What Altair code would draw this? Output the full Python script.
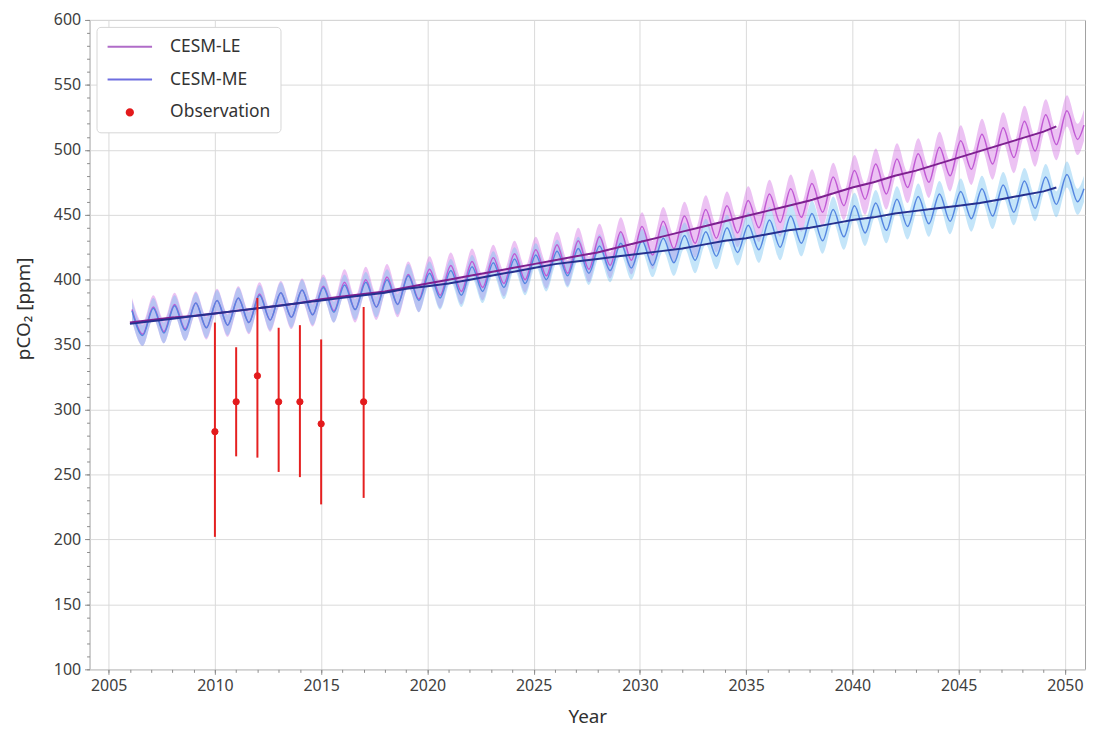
import altair as alt
import pandas as pd

# ---------------- data ----------------
years = list(range(2006, 2051))

le_peak = [377, 379, 381, 382, 384, 386, 389, 390, 392, 395,
           398, 400, 402, 404, 408, 411, 414, 417, 420, 423,
           427, 430, 433, 437, 441, 445, 449, 454, 457, 461,
           466, 470, 474, 479, 484, 489, 493, 497, 502, 507,
           512, 517, 522, 527, 530]
le_trough = [358, 360, 362, 363, 365, 367, 369, 371, 373, 376,
             377, 379, 381, 385, 388, 391, 394, 397, 400, 403,
             405, 408, 411, 415, 419, 424, 428, 432, 436, 440,
             444, 448, 452, 457, 462, 466, 471, 475, 480, 485,
             489, 494, 499, 504, 508]
le_spread = [9, 9, 9, 9, 9, 9, 9, 9, 9, 9,
             10, 10, 10, 10, 10, 10, 10, 10, 10, 10,
             10, 10, 10, 11, 11, 11, 11, 11, 11, 11,
             11, 11, 11, 11, 12, 12, 12, 12, 12, 12,
             12, 12, 12, 12, 12]
le_last = 519

me_peak = [376, 378, 380, 382, 384, 386, 388, 390, 392, 394,
           396, 398, 400, 403, 405, 407, 410, 413, 416, 419,
           422, 424, 426, 428, 430, 432, 434, 437, 440, 442,
           446, 449, 451, 454, 457, 459, 462, 464, 466, 468,
           470, 473, 476, 479, 481]
me_trough = [357, 359, 361, 363, 365, 367, 369, 371, 373, 375,
             377, 379, 381, 384, 386, 388, 391, 394, 397, 400,
             403, 405, 407, 409, 411, 413, 415, 418, 421, 423,
             425, 428, 430, 433, 436, 438, 441, 443, 445, 447,
             449, 452, 455, 458, 460]
me_spread = [8, 8, 8, 8, 8, 8, 8, 8, 8, 8,
             8, 8, 8, 9, 9, 9, 9, 9, 9, 9,
             9, 9, 9, 9, 9, 10, 10, 10, 10, 10,
             10, 10, 10, 10, 10, 10, 10, 10, 10, 10,
             10, 10, 10, 10, 10]
me_last = 470

trend_years = list(range(2006, 2050)) + [2049.6]
le_trend = [367, 369, 371, 372, 374, 376, 378, 380, 382, 385,
            387, 389, 391, 394, 397, 400, 403, 406, 409, 412,
            415, 418, 421, 425, 429, 433, 437, 441, 445, 449,
            453, 457, 461, 466, 471, 475, 480, 484, 489, 494,
            499, 504, 509, 514, 518]
me_trend = [366, 368, 370, 372, 374, 376, 378, 380, 382, 384,
            386, 388, 390, 393, 395, 397, 400, 403, 406, 409,
            412, 414, 416, 418, 420, 422, 424, 427, 430, 432,
            435, 438, 440, 443, 446, 448, 451, 453, 455, 457,
            459, 462, 465, 468, 471]

obs_years = [2010, 2011, 2012, 2013, 2014, 2015, 2017]
obs_values = [283, 306, 326, 306, 306, 289, 306]
obs_low = [202, 264, 263, 252, 248, 227, 232]
obs_high = [367, 348, 386, 363, 365, 354, 379]

series_names = ["CESM-LE", "CESM-ME", "Observation"]
x_major = list(range(2005, 2051, 5))
x_minor = list(range(2005, 2051))
y_major = list(range(100, 601, 50))
y_minor = list(range(100, 601, 10))

# ---------------- build tables ----------------
def wave(peak, trough, spread, last):
    rows = []
    for i, yr in enumerate(years):
        rows.append({"t": yr + 0.1, "v": peak[i], "lo": peak[i] - spread[i], "hi": peak[i] + spread[i]})
        rows.append({"t": yr + 0.6, "v": trough[i], "lo": trough[i] - spread[i], "hi": trough[i] + spread[i]})
    rows.append({"t": 2050.9, "v": last, "lo": last - spread[-1], "hi": last + spread[-1]})
    return pd.DataFrame(rows)

le_df = wave(le_peak, le_trough, le_spread, le_last)
me_df = wave(me_peak, me_trough, me_spread, me_last)
trend_df = pd.DataFrame({"t": trend_years, "le": le_trend, "me": me_trend})
obs_df = pd.DataFrame({"t": obs_years, "v": obs_values, "lo": obs_low,
                       "hi": obs_high, "series": ["Observation"] * len(obs_years)})

FONT = "Noto Sans"
xs = alt.Scale(domain=[2004.1, 2050.95], nice=False, zero=False)
ys = alt.Scale(domain=[100, 600], nice=False, zero=False)

x_axis = alt.Axis(values=x_major, format="d", title="Year", grid=True, domain=False,
                  tickSize=5, labelPadding=3, titlePadding=14)
y_axis = alt.Axis(values=y_major, title="pCO₂ [ppm]", grid=True, domain=False,
                  tickSize=5, labelPadding=4, titleX=-66, titleY=290,
                  titleBaseline="middle", titleAlign="center", titleAngle=270)

X = alt.X("t:Q", scale=xs, axis=x_axis)
Y = alt.Y("v:Q", scale=ys, axis=y_axis)

le_band = alt.Chart(le_df).mark_area(color="#d478e4", opacity=0.45, interpolate="monotone").encode(
    x=X, y=alt.Y("lo:Q", scale=ys, axis=y_axis), y2="hi:Q")
me_band = alt.Chart(me_df).mark_area(color="#7cc6f2", opacity=0.45, interpolate="monotone").encode(
    x=X, y=alt.Y("lo:Q", scale=ys, axis=y_axis), y2="hi:Q")
le_line = alt.Chart(le_df).mark_line(color="#c05ad4", strokeWidth=1.5, interpolate="monotone").encode(x=X, y=Y)
me_line = alt.Chart(me_df).mark_line(color="#5586e0", strokeWidth=1.5, interpolate="monotone").encode(x=X, y=Y)
le_tr = alt.Chart(trend_df).mark_line(color="#7e2090", strokeWidth=2).encode(
    x=X, y=alt.Y("le:Q", scale=ys, axis=y_axis))
me_tr = alt.Chart(trend_df).mark_line(color="#25308f", strokeWidth=2).encode(
    x=X, y=alt.Y("me:Q", scale=ys, axis=y_axis))

err = alt.Chart(obs_df).mark_rule(color="#e52020", strokeWidth=2).encode(
    x=X, y=alt.Y("lo:Q", scale=ys, axis=y_axis), y2="hi:Q")

leg = alt.Legend(title=None, orient="top-left", offset=7, padding=10,
                 fillColor="white", strokeColor="#d6d6d6", cornerRadius=4,
                 labelFontSize=17.5, labelFont=FONT, labelColor="#333333",
                 symbolStrokeWidth=2, labelOffset=17, rowPadding=13, clipHeight=20)
legend_colors = ["#b06cc8", "#6e6ee0", "#e31a1c"]

pts = alt.Chart(obs_df).mark_point(filled=True, opacity=1, strokeWidth=1).encode(
    x=X, y=Y,
    fill=alt.Fill("series:N", scale=alt.Scale(domain=series_names, range=legend_colors), legend=leg),
    stroke=alt.Stroke("series:N", scale=alt.Scale(domain=series_names, range=legend_colors), legend=leg),
    shape=alt.Shape("series:N", scale=alt.Scale(domain=series_names, range=["stroke", "stroke", "circle"]), legend=leg),
    size=alt.Size("series:N", scale=alt.Scale(type="ordinal", domain=series_names, range=[2000, 2000, 40]), legend=leg),
)

main = alt.layer(le_band, me_band, le_line, me_line, le_tr, me_tr, err, pts)

minor = alt.Chart(pd.DataFrame({"t": [2005], "v": [100]})).mark_point(opacity=0).encode(
    x=alt.X("t:Q", scale=xs, axis=alt.Axis(values=x_minor, labels=False, grid=False, domain=False,
                                            tickSize=3, title=None, orient="bottom")),
    y=alt.Y("v:Q", scale=ys, axis=alt.Axis(values=y_minor, labels=False, grid=False, domain=False,
                                            tickSize=3, title=None, orient="left")),
)

chart = alt.layer(main, minor).resolve_axis(x="independent", y="independent").properties(
    width=1001, height=653,
    autosize=alt.AutoSizeParams(type="none"),
    padding={"left": 82, "top": 10, "right": 5, "bottom": 62},
).configure_view(stroke="#a0a0a0", strokeWidth=1).configure_axis(
    labelFont=FONT, titleFont=FONT, labelFontSize=16, titleFontSize=19,
    labelColor="#404040", titleColor="#303030", titleFontWeight="normal",
    tickColor="#8c8c8c", gridColor="#dadada", gridWidth=1,
)

chart.save("out.html", embed_options={"renderer": "svg", "actions": False})
